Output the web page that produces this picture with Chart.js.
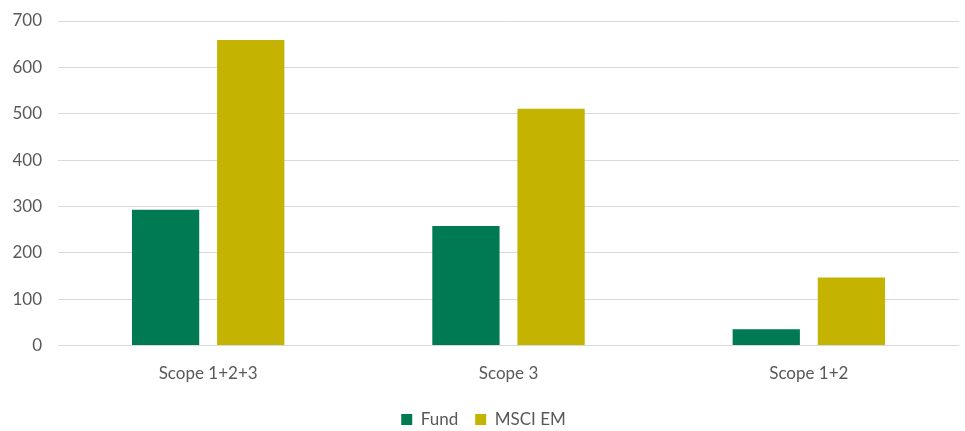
<!DOCTYPE html>
<html>
<head>
<meta charset="utf-8">
<script src="https://cdn.jsdelivr.net/npm/chart.js@4"></script>
<style>
    html, body { margin: 0; padding: 0; background: #fff; }
    #wrap { width: 965px; height: 431px; }
</style>
</head>
<body>
<div id="wrap"><canvas id="scopeChart" width="965" height="431"></canvas></div>
<script>
const categories = ['Scope 1+2+3', 'Scope 3', 'Scope 1+2'];
const fundValues = [293, 258, 35];
const msciValues = [659, 511, 147];
const yTicks = [0, 100, 200, 300, 400, 500, 600, 700];

document.addEventListener('DOMContentLoaded', function () {
    const ctx = document.getElementById('scopeChart').getContext('2d');
    Chart.defaults.font.family = 'Lato, "Open Sans", sans-serif';
    Chart.defaults.color = '#595959';

    new Chart(ctx, {
        type: 'bar',
        data: {
            labels: categories,
            datasets: [
                {
                    label: 'Fund',
                    data: fundValues,
                    backgroundColor: '#007A53',
                    categoryPercentage: 0.567,
                    barPercentage: 0.79
                },
                {
                    label: 'MSCI EM',
                    data: msciValues,
                    backgroundColor: '#C4B300',
                    categoryPercentage: 0.567,
                    barPercentage: 0.79
                }
            ]
        },
        options: {
            responsive: false,
            animation: false,
            layout: { padding: { left: 8, right: 6, top: 21, bottom: -7 } },
            scales: {
                x: {
                    grid: { display: false },
                    border: { display: false },
                    ticks: { font: { size: 17 }, padding: 10 }
                },
                y: {
                    min: 0,
                    max: 700,
                    afterBuildTicks: function (axis) {
                        axis.ticks = yTicks.map(v => ({ value: v }));
                    },
                    afterFit: function (axis) {
                        axis.width = 50;
                        axis.paddingTop = 0;
                        axis.paddingBottom = 0;
                    },
                    grid: { color: '#D9D9D9', drawTicks: false },
                    border: { display: false },
                    ticks: { font: { size: 17 }, padding: 16 }
                }
            },
            plugins: {
                legend: {
                    position: 'bottom',
                    labels: {
                        font: { size: 17 },
                        boxWidth: 11,
                        boxHeight: 11,
                        padding: 17
                    }
                },
                tooltip: { enabled: false }
            }
        }
    });
});
</script>
</body>
</html>
